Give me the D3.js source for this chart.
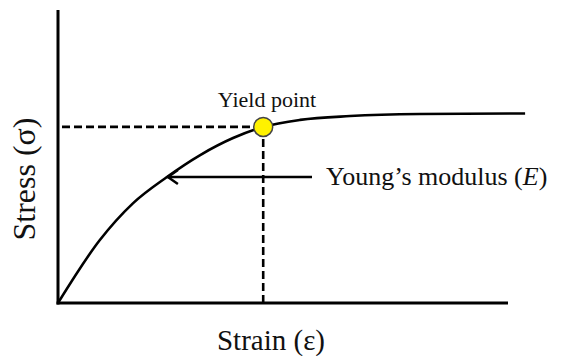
<!DOCTYPE html>
<html>
<head>
<meta charset="utf-8">
<script src="https://cdn.jsdelivr.net/npm/d3@7"></script>
<style>
  html, body { margin: 0; padding: 0; background: #fff; }
</style>
</head>
<body>
<div id="chart"></div>
<script>
// stress-strain curve (strain, stress in arbitrary units)
var strain = [0, 9.3, 16.7, 24.2, 31.6, 38.9, 45.6, 53.8, 64.9, 80.4, 103.8];
var stress = [0, 21.5, 34.1, 43.0, 50.5, 56.3, 60.1, 62.5, 63.8, 64.5, 64.7];
var yieldPoint = [45.6, 60.1];
var modulusAt = [24.2, 43.0];   // where the arrow points
var labels = {
  x: "Strain (\u03b5)",
  y: "Stress (\u03c3)",
  yieldLabel: "Yield point",
  modulus: "Young\u2019s modulus ("
};

var width = 576;
var height = 356;
var serif = "'Liberation Serif', 'Times New Roman', Times, 'DejaVu Serif', serif";

var svg = d3.select('#chart')
            .append('svg')
            .attr('width', width)
            .attr('height', height);

var xScale = d3.scaleLinear()
               .domain([0, 100])
               .range([58, 508]);
var yScale = d3.scaleLinear()
               .domain([0, 100])
               .range([303, 10]);

var points = strain.map(function(d, i){ return [d, stress[i]]; });

// axes (plain lines, no ticks)
svg.append('line')
   .attr('x1', xScale(0)).attr('y1', yScale(100))
   .attr('x2', xScale(0)).attr('y2', yScale(0) + 1.5)
   .attr('stroke', '#000').attr('stroke-width', 3);
svg.append('line')
   .attr('x1', xScale(0) - 1.5).attr('y1', yScale(0))
   .attr('x2', xScale(100)).attr('y2', yScale(0))
   .attr('stroke', '#000').attr('stroke-width', 3);

// dashed guides to the yield point
svg.append('line')
   .attr('x1', xScale(0) + 4).attr('y1', yScale(yieldPoint[1]))
   .attr('x2', xScale(yieldPoint[0])).attr('y2', yScale(yieldPoint[1]))
   .attr('stroke', '#000').attr('stroke-width', 2.6)
   .attr('stroke-dasharray', '8,4');
svg.append('line')
   .attr('x1', xScale(yieldPoint[0])).attr('y1', yScale(yieldPoint[1]))
   .attr('x2', xScale(yieldPoint[0])).attr('y2', yScale(0))
   .attr('stroke', '#000').attr('stroke-width', 2.6)
   .attr('stroke-dasharray', '8,4');

// the curve
var line = d3.line()
             .x(function(d){ return xScale(d[0]); })
             .y(function(d){ return yScale(d[1]); })
             .curve(d3.curveMonotoneX);
svg.append('path')
   .datum(points)
   .attr('d', line)
   .attr('fill', 'none')
   .attr('stroke', '#000')
   .attr('stroke-width', 2.6);

// arrow to the linear part
var ax = xScale(modulusAt[0]);
var ay = yScale(modulusAt[1]);
svg.append('line')
   .attr('x1', ax).attr('y1', ay)
   .attr('x2', 312).attr('y2', ay)
   .attr('stroke', '#000').attr('stroke-width', 2.5);
svg.append('path')
   .attr('d', 'M' + (ax + 11) + ',' + (ay - 7) + 'L' + (ax + 1) + ',' + ay + 'L' + (ax + 11) + ',' + (ay + 7))
   .attr('fill', 'none')
   .attr('stroke', '#000')
   .attr('stroke-width', 2.5);

// yield point marker
svg.append('circle')
   .attr('cx', xScale(yieldPoint[0]))
   .attr('cy', yScale(yieldPoint[1]))
   .attr('r', 9.5)
   .attr('fill', '#fff200')
   .attr('stroke', '#444')
   .attr('stroke-width', 1.5);

// texts
svg.append('text')
   .attr('x', 267).attr('y', 107)
   .attr('text-anchor', 'middle')
   .attr('font-family', serif)
   .attr('font-size', 22)
   .attr('fill', '#111')
   .text(labels.yieldLabel);

var mod = svg.append('text')
   .attr('x', 326).attr('y', 185)
   .attr('font-family', serif)
   .attr('font-size', 26)
   .attr('fill', '#111');
mod.append('tspan').text(labels.modulus);
mod.append('tspan').attr('font-style', 'italic').text('E');
mod.append('tspan').text(')');

svg.append('text')
   .attr('x', 271).attr('y', 350)
   .attr('text-anchor', 'middle')
   .attr('font-family', serif)
   .attr('font-size', 29)
   .attr('fill', '#111')
   .text(labels.x);

svg.append('text')
   .attr('transform', 'translate(35,179) rotate(-90)')
   .attr('text-anchor', 'middle')
   .attr('font-family', serif)
   .attr('font-size', 32)
   .attr('fill', '#111')
   .text(labels.y);
</script>
</body>
</html>
